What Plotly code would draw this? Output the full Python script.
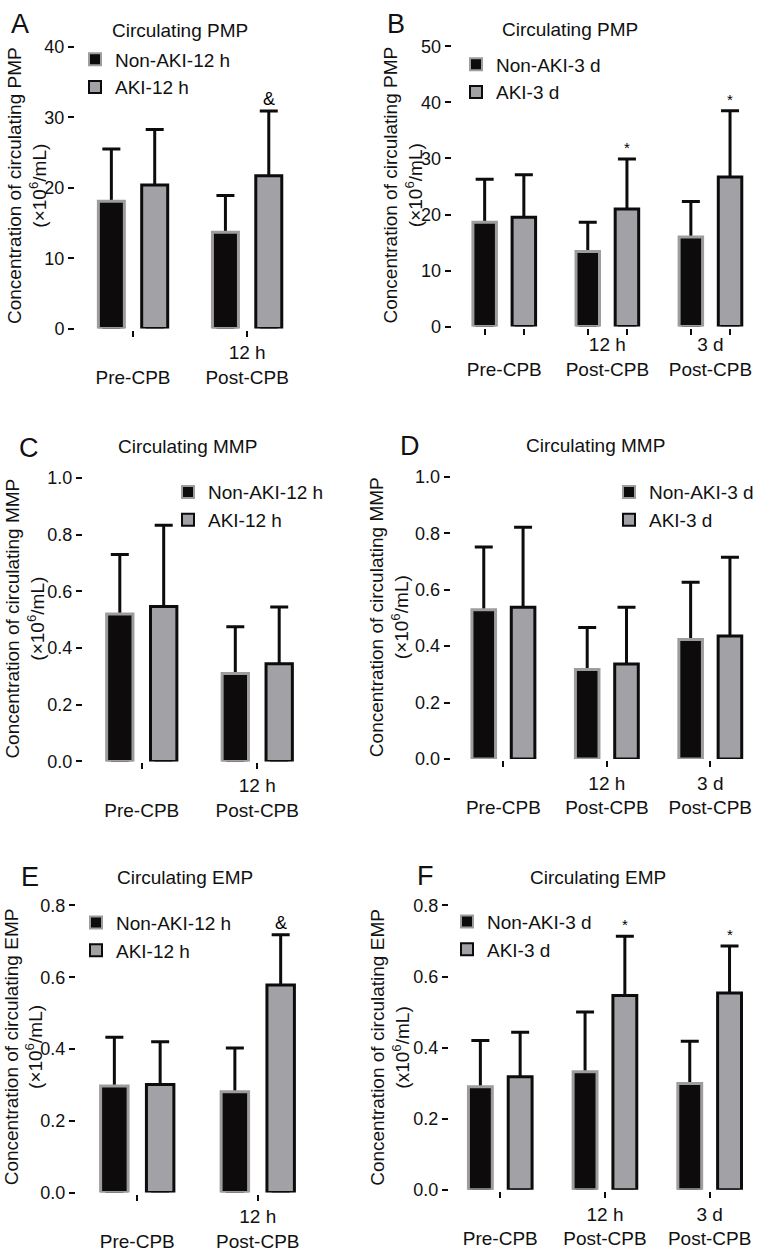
import plotly.graph_objects as go

W, H = 762, 1252
FONT = "Liberation Sans, Arial, Helvetica, sans-serif"

# ---------------- data ----------------
groups_12h = ["\u00a0<br>Pre-CPB", "12 h<br>Post-CPB"]
groups_3d = ["\u00a0<br>Pre-CPB", "12 h<br>Post-CPB", "3 d<br>Post-CPB"]

# A: circulating PMP, 12 h grouping
pmp12_non_mean = [18.1, 13.7]
pmp12_non_sd = [7.4, 5.2]
pmp12_aki_mean = [20.4, 21.7]
pmp12_aki_sd = [7.9, 9.2]
pmp12_sig = ["", "&"]

# B: circulating PMP, 3 d grouping
pmp3_non_mean = [18.6, 13.4, 16.0]
pmp3_non_sd = [7.7, 5.2, 6.3]
pmp3_aki_mean = [19.5, 21.0, 26.7]
pmp3_aki_sd = [7.6, 8.9, 11.8]
pmp3_sig = ["", "*", "*"]

# C: circulating MMP, 12 h grouping
mmp12_non_mean = [0.52, 0.31]
mmp12_non_sd = [0.21, 0.165]
mmp12_aki_mean = [0.547, 0.345]
mmp12_aki_sd = [0.286, 0.20]
mmp12_sig = ["", ""]

# D: circulating MMP, 3 d grouping
mmp3_non_mean = [0.529, 0.317, 0.424]
mmp3_non_sd = [0.223, 0.149, 0.203]
mmp3_aki_mean = [0.538, 0.337, 0.436]
mmp3_aki_sd = [0.284, 0.201, 0.279]
mmp3_sig = ["", "", ""]

# E: circulating EMP, 12 h grouping
emp12_non_mean = [0.297, 0.281]
emp12_non_sd = [0.136, 0.122]
emp12_aki_mean = [0.301, 0.578]
emp12_aki_sd = [0.119, 0.140]
emp12_sig = ["", "&"]

# F: circulating EMP, 3 d grouping
emp3_non_mean = [0.290, 0.332, 0.299]
emp3_non_sd = [0.130, 0.168, 0.119]
emp3_aki_mean = [0.318, 0.547, 0.554]
emp3_aki_sd = [0.125, 0.166, 0.132]
emp3_sig = ["", "*", "*"]

# ---------------- panel setup (layout only) ----------------
panels = [
    dict(letter="A", title="Circulating PMP", ylab="Concentration of circulating PMP<br>(\u00d710<sup>6</sup>/mL)",
         groups=groups_12h, non=(pmp12_non_mean, pmp12_non_sd), aki=(pmp12_aki_mean, pmp12_aki_sd), sig=pmp12_sig,
         names=("Non-AKI-12 h", "AKI-12 h"),
         xpx=(76, 303), ypx=(37.7, 324), xr=(-0.5, 1.49), yr=(0, 40), dtick=10, fmt="d",
         letter_pos=(20, 14), title_pos=(180, 21), ylab_pos=(27, 179), leg=(117, 50), bar_ticks=False),
    dict(letter="B", title="Circulating PMP", ylab="Concentration of circulating PMP<br>(\u00d710<sup>6</sup>/mL)",
         groups=groups_3d, non=(pmp3_non_mean, pmp3_non_sd), aki=(pmp3_aki_mean, pmp3_aki_sd), sig=pmp3_sig,
         names=("Non-AKI-3 d", "AKI-3 d"),
         xpx=(452.7, 762), ypx=(37, 322), xr=(-0.5, 2.5), yr=(0, 50), dtick=10, fmt="d",
         letter_pos=(396, 14), title_pos=(570, 20), ylab_pos=(403.5, 178), leg=(498, 55), bar_ticks=True),
    dict(letter="C", title="Circulating MMP", ylab="Concentration of circulating MMP<br>(\u00d710<sup>6</sup>/mL)",
         groups=groups_12h, non=(mmp12_non_mean, mmp12_non_sd), aki=(mmp12_aki_mean, mmp12_aki_sd), sig=mmp12_sig,
         names=("Non-AKI-12 h", "AKI-12 h"),
         xpx=(84, 315), ypx=(476, 764.3), xr=(-0.5, 1.5), yr=(0, 1.0), dtick=0.2, fmt=".1f",
         letter_pos=(29, 445), title_pos=(187, 444), ylab_pos=(25, 619), leg=(210, 490), bar_ticks=False),
    dict(letter="D", title="Circulating MMP", ylab="Concentration of circulating MMP<br>(\u00d710<sup>6</sup>/mL)",
         groups=groups_3d, non=(mmp3_non_mean, mmp3_non_sd), aki=(mmp3_aki_mean, mmp3_aki_sd), sig=mmp3_sig,
         names=("Non-AKI-3 d", "AKI-3 d"),
         xpx=(451.7, 762), ypx=(475, 761.7), xr=(-0.5, 2.5), yr=(0, 1.0), dtick=0.2, fmt=".1f",
         letter_pos=(410, 443), title_pos=(595, 443), ylab_pos=(388.5, 618), leg=(651, 490), bar_ticks=False),
    dict(letter="E", title="Circulating EMP", ylab="Concentration of circulating EMP<br>(\u00d710<sup>6</sup>/mL)",
         groups=groups_12h, non=(emp12_non_mean, emp12_non_sd), aki=(emp12_aki_mean, emp12_aki_sd), sig=emp12_sig,
         names=("Non-AKI-12 h", "AKI-12 h"),
         xpx=(77, 312), ypx=(910.7, 1202.7), xr=(-0.5, 1.45), yr=(0, 0.8), dtick=0.2, fmt=".1f",
         letter_pos=(30, 882), title_pos=(185, 882), ylab_pos=(24, 1055), leg=(118, 928), bar_ticks=False),
    dict(letter="F", title="Circulating EMP", ylab="Concentration of circulating EMP<br>(x10<sup>6</sup>/mL)",
         groups=groups_3d, non=(emp3_non_mean, emp3_non_sd), aki=(emp3_aki_mean, emp3_aki_sd), sig=emp3_sig,
         names=("Non-AKI-3 d", "AKI-3 d"),
         xpx=(450, 762), ypx=(910.7, 1200), xr=(-0.48, 2.5), yr=(0, 0.8), dtick=0.2, fmt=".1f",
         letter_pos=(425, 881), title_pos=(598, 882), ylab_pos=(390.5, 1055), leg=(489, 927), bar_ticks=False),
]

BARGAP = 0.24
BARGROUPGAP = 0.40
HALF = (1 - BARGAP) / 4  # centre offset of each bar within its group

NON_FILL, NON_LINE = "#0d0b0b", "#9d9d9d"
AKI_FILL, AKI_LINE = "#a2a1a6", "#0d0b0b"
INK = "#0d0b0b"


def px_x(p):
    return p / W


def px_y(p):
    return 1 - p / H


fig = go.Figure()
annotations = []
layout = {}

for i, P in enumerate(panels):
    n = i + 1
    xa = "x" if n == 1 else f"x{n}"
    ya = "y" if n == 1 else f"y{n}"
    leg = "legend" if n == 1 else f"legend{n}"
    idx = list(range(len(P["groups"])))

    for (mean, sd), name, fill, line, sign in [
        (P["non"], P["names"][0], NON_FILL, NON_LINE, -1),
        (P["aki"], P["names"][1], AKI_FILL, AKI_LINE, 1),
    ]:
        fig.add_trace(go.Bar(
            x=idx, y=mean, name=name, xaxis=xa, yaxis=ya, legend=leg,
            marker=dict(color=fill, line=dict(color=line, width=3)),
            hoverinfo="skip",
        ))
        # error bars drawn underneath the bars (only the upper part shows)
        fig.add_trace(go.Scatter(
            x=[k + sign * HALF for k in idx], y=mean, xaxis=xa, yaxis=ya,
            mode="markers", marker=dict(size=1, color="rgba(0,0,0,0)"),
            error_y=dict(type="data", symmetric=False, array=sd, arrayminus=mean,
                         color=INK, thickness=3, width=9),
            showlegend=False, hoverinfo="skip", zorder=-1,
        ))

    # significance marks
    amean, asd = P["aki"]
    for k, s in enumerate(P["sig"]):
        if s:
            annotations.append(dict(
                x=k + HALF, y=amean[k] + asd[k], xref=xa, yref=ya, text=s, showarrow=False,
                yanchor="bottom", font=dict(size=18 if s == "&" else 15, color="#000000", family=FONT),
                yshift=0 if s == "&" else 1,
            ))

    xd = [px_x(P["xpx"][0]), min(1.0, px_x(P["xpx"][1]))]
    yd = [px_y(P["ypx"][1]), px_y(P["ypx"][0])]
    xkey = "xaxis" if n == 1 else f"xaxis{n}"
    ykey = "yaxis" if n == 1 else f"yaxis{n}"
    xaxis = dict(
        domain=xd, anchor=ya, range=list(P["xr"]), tickmode="array", tickvals=idx,
        ticktext=P["groups"], showline=True, linecolor=INK, linewidth=2,
        ticks="outside", ticklen=6, tickwidth=2, tickcolor=INK,
        showgrid=False, zeroline=False, tickfont=dict(size=19, color="#111", family=FONT),
        fixedrange=True,
    )
    if P["bar_ticks"]:
        xaxis["ticklen"] = 0
        xaxis["minor"] = dict(tickmode="array",
                              tickvals=[k + s * HALF for k in idx for s in (-1, 1)],
                              ticks="outside", ticklen=6, tickwidth=2, tickcolor=INK,
                              showgrid=False)
    layout[xkey] = xaxis
    layout[ykey] = dict(
        domain=yd, anchor=xa, range=list(P["yr"]), dtick=P["dtick"], tick0=0, tickformat=P["fmt"],
        showline=True, linecolor=INK, linewidth=2, ticks="outside", ticklen=6,
        tickwidth=2, tickcolor=INK, showgrid=False, zeroline=False,
        tickfont=dict(size=18, color="#111", family=FONT), fixedrange=True,
    )
    layout[leg] = dict(
        x=px_x(P["leg"][0] - 42), y=px_y(P["leg"][1] - 19), xanchor="left", yanchor="top",
        bgcolor="rgba(0,0,0,0)", borderwidth=0, font=dict(size=19, color="#111", family=FONT),
        traceorder="normal", itemsizing="constant",
    )

    annotations.append(dict(x=px_x(P["letter_pos"][0]), y=px_y(P["letter_pos"][1]), xref="paper",
                            yref="paper", text=P["letter"], showarrow=False, xanchor="center",
                            yanchor="middle", font=dict(size=27, color="#111", family=FONT)))
    annotations.append(dict(x=px_x(P["title_pos"][0]), y=px_y(P["title_pos"][1]), xref="paper",
                            yref="paper", text=P["title"], showarrow=False, xanchor="center",
                            yanchor="middle", font=dict(size=19, color="#111", family=FONT)))
    annotations.append(dict(x=px_x(P["ylab_pos"][0]), y=px_y(P["ylab_pos"][1]), xref="paper",
                            yref="paper", text=P["ylab"], showarrow=False, xanchor="center",
                            yanchor="middle", textangle=-90,
                            font=dict(size=19, color="#111", family=FONT)))

fig.update_layout(
    width=W, height=H, margin=dict(l=0, r=0, t=0, b=0),
    paper_bgcolor="white", plot_bgcolor="white",
    barmode="group", bargap=BARGAP, bargroupgap=BARGROUPGAP,
    font=dict(family=FONT, color="#111"),
    annotations=annotations, showlegend=True,
    **layout,
)

fig.write_html(
    "out.html",
    config={"displayModeBar": False},
    post_script="document.body.style.margin='0';document.body.style.overflow='hidden';",
)
